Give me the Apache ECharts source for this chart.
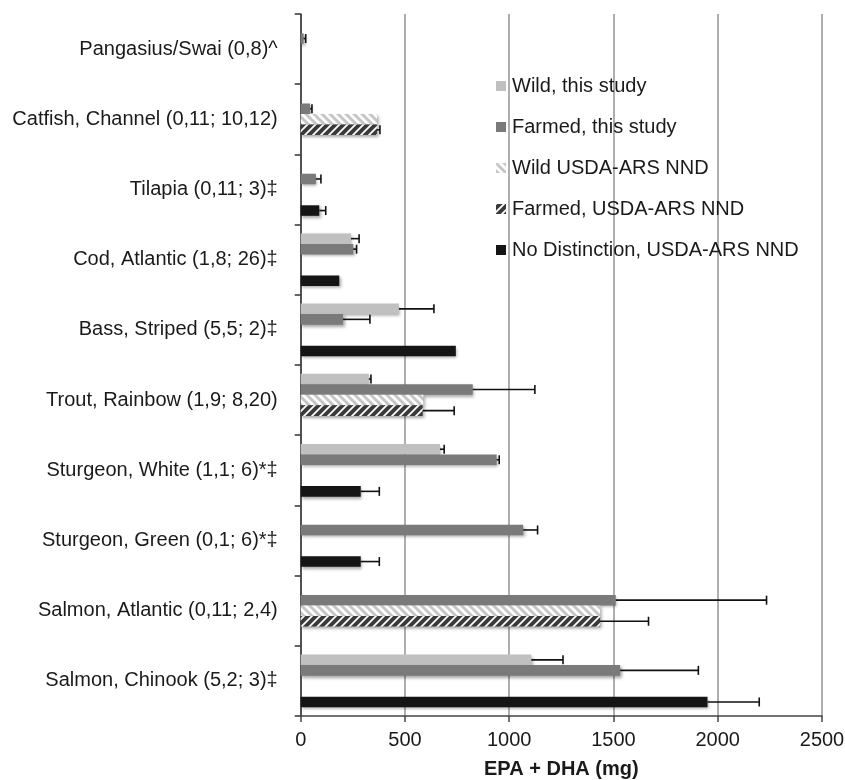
<!DOCTYPE html>
<html><head><meta charset="utf-8">
<script src="https://cdn.jsdelivr.net/npm/echarts@6/dist/echarts.min.js"></script>
<style>html,body{margin:0;padding:0;background:#fff}#c{width:845px;height:780px}</style>
</head><body><div id="c"></div>
<script>
const categories = ['Pangasius/Swai (0,8)^', 'Catfish, Channel (0,11; 10,12)', 'Tilapia (0,11; 3)‡', 'Cod, Atlantic (1,8; 26)‡', 'Bass, Striped (5,5; 2)‡', 'Trout, Rainbow (1,9; 8,20)', 'Sturgeon, White (1,1; 6)*‡', 'Sturgeon, Green (0,1; 6)*‡', 'Salmon, Atlantic (0,11; 2,4)', 'Salmon, Chinook (5,2; 3)‡'];
const seriesNames = ['Wild, this study', 'Farmed, this study', 'Wild USDA-ARS NND', 'Farmed, USDA-ARS NND', 'No Distinction, USDA-ARS NND'];
const wild        = [null, null, null, 241, 471, 327, 668, null, null, 1106];
const wildErr     = [null, null, null, 39, 168, 10, 20, null, null, 152];
const farmed      = [14, 45, 73, 252, 203, 825, 940, 1067, 1511, 1532];
const farmedErr   = [10, 9, 24, 16, 129, 298, 12, 69, 723, 375];
const wildUSDA    = [null, 366, null, null, null, 588, null, null, 1436, null];
const wildUSDAErr = [null, null, null, null, null, null, null, null, null, null];
const farmedUSDA  = [null, 366, null, null, null, 585, null, null, 1436, null];
const farmedUSDAErr = [null, 14, null, null, null, 151, null, null, 232, null];
const noDist      = [null, null, 89, 185, 744, null, 288, 288, null, 1951];
const noDistErr   = [null, null, 31, null, null, null, 89, 89, null, 248];
const xTicks = [0, 500, 1000, 1500, 2000, 2500];

function stripe(bg, fg, dir, lw) {
  const c = document.createElement('canvas');
  c.width = 8; c.height = 8;
  const g = c.getContext('2d');
  g.fillStyle = bg; g.fillRect(0, 0, 8, 8);
  g.strokeStyle = fg; g.lineWidth = lw;
  g.beginPath();
  if (dir > 0) { // "/"
    g.moveTo(-2, 10); g.lineTo(10, -2);
    g.moveTo(-2, 2); g.lineTo(2, -2);
    g.moveTo(6, 10); g.lineTo(10, 6);
  } else { // "\"
    g.moveTo(-2, -2); g.lineTo(10, 10);
    g.moveTo(6, -2); g.lineTo(10, 2);
    g.moveTo(-2, 6); g.lineTo(2, 10);
  }
  g.stroke();
  return c;
}

const colors = [
  '#c0c0c0',
  '#7a7a7a',
  { image: stripe('#ffffff', '#c6c6c6', -1, 3), repeat: 'repeat' },
  { image: stripe('#3a3a3a', '#ffffff', 1, 1.8), repeat: 'repeat' },
  '#151515'
];
const values = [wild, farmed, wildUSDA, farmedUSDA, noDist];
const errs = [wildErr, farmedErr, wildUSDAErr, farmedUSDAErr, noDistErr];
const NS = values.length;
const CATGAP = 0.25;

const series = [];
values.forEach((vals, i) => {
  series.push({
    name: seriesNames[i], type: 'bar', data: vals,
    barCategoryGap: '25%', barGap: '0%',
    itemStyle: { color: colors[i], shadowColor: 'rgba(0,0,0,0.35)', shadowBlur: 3, shadowOffsetX: 1.5, shadowOffsetY: 2 },
    silent: true, z: 2
  });
});
values.forEach((vals, i) => {
  const data = [];
  vals.forEach((v, k) => { if (v != null && errs[i][k] != null) data.push([v, k, errs[i][k]]); });
  series.push({
    type: 'custom', z: 5, silent: true,
    data: data,
    encode: { x: 0, y: 1 },
    renderItem: function (params, api) {
      const v = api.value(0), k = api.value(1), e = api.value(2);
      const band = api.size([0, 1])[1];
      const bw = band * (1 - CATGAP) / NS;
      const cy = api.coord([0, k])[1] - band * (1 - CATGAP) / 2 + bw * (i + 0.5);
      const x0 = api.coord([v, k])[0];
      const x1 = api.coord([v + e, k])[0];
      const st = { stroke: '#111', lineWidth: 1.6 };
      return { type: 'group', children: [
        { type: 'line', shape: { x1: x0, y1: cy, x2: x1, y2: cy }, style: st },
        { type: 'line', shape: { x1: x1, y1: cy - 4.5, x2: x1, y2: cy + 4.5 }, style: st }
      ]};
    }
  });
});

const chart = echarts.init(document.getElementById('c'), null, { renderer: 'canvas' });
chart.setOption({
  animation: false,
  backgroundColor: '#ffffff',
  textStyle: { fontFamily: 'Liberation Sans, Arial, sans-serif' },
  grid: { left: 300.7, right: 23, top: 14, bottom: 64, containLabel: false, outerBoundsMode: 'none' },
  legend: {
    orient: 'vertical', left: 491, top: 71,
    data: seriesNames,
    itemWidth: 10, itemHeight: 10, itemGap: 21,
    icon: 'rect',
    textStyle: { fontSize: 20, color: '#1a1a1a', padding: [0, 0, 0, 1], lineHeight: 20 }
  },
  xAxis: {
    type: 'value', min: 0, max: 2500, interval: 500,
    name: 'EPA + DHA (mg)', nameLocation: 'middle', nameGap: 43,
    nameTextStyle: { fontSize: 20, fontWeight: 'bold', color: '#1a1a1a' },
    axisLine: { show: true, lineStyle: { color: '#444', width: 1.5 } },
    axisTick: { show: true, length: 6, lineStyle: { color: '#444', width: 1.5 } },
    axisLabel: { fontSize: 20, color: '#1a1a1a', margin: 14,
      formatter: v => xTicks.includes(v) ? String(v) : '' },
    splitLine: { show: true, lineStyle: { color: '#a6a6a6', width: 1.8 } }
  },
  yAxis: {
    type: 'category', data: categories, inverse: true,
    axisLine: { show: true, lineStyle: { color: '#333', width: 1.5 } },
    axisTick: { show: true, length: 6, lineStyle: { color: '#333', width: 1.5 } },
    axisLabel: { fontSize: 20, color: '#1a1a1a', margin: 23 },
    splitLine: { show: false }
  },
  series: series
});
</script></body></html>
